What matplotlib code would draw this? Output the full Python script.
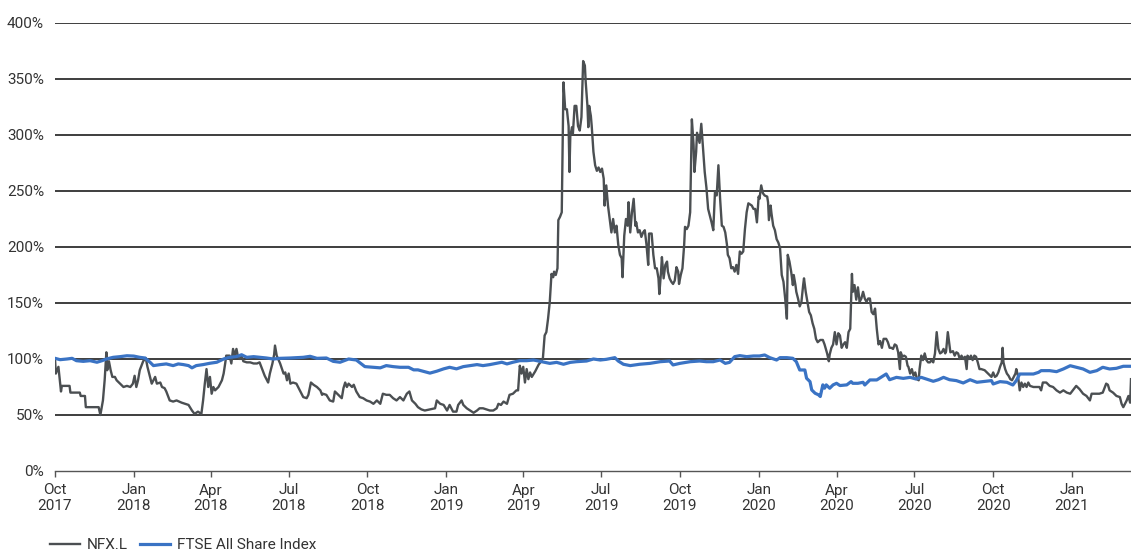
import numpy as np
import matplotlib
matplotlib.use("Agg")
import matplotlib.pyplot as plt
import matplotlib.dates as mdates
from matplotlib.ticker import FuncFormatter

plt.rcParams['font.family'] = ['Roboto', 'DejaVu Sans']

start_date = np.datetime64('2017-10-01')
end_date = np.datetime64('2021-03-11')

# NFX.L, rebased to 100%  (days since 1 Oct 2017, value in %)
nfx_days = [0, 1, 4, 7, 8, 17, 18, 29, 30, 35, 36, 51, 53, 56, 58, 60, 61, 63, 65, 67,
            70, 72, 76, 80, 84, 88, 91, 93, 95, 97, 99, 103, 106, 108, 111, 113, 117, 119, 123, 125,
            128, 130, 134, 138, 142, 148, 152, 156, 160, 163, 167, 171, 173, 175, 177, 179, 181, 183, 185, 187,
            191, 195, 197, 199, 200, 204, 206, 208, 210, 212, 214, 216, 218, 220, 224, 228, 232, 236, 239, 241,
            245, 249, 251, 254, 256, 257, 259, 263, 267, 269, 271, 273, 275, 278, 282,
            286, 290, 294, 296, 299, 302, 306, 310, 312, 313, 317, 321, 325, 327, 331, 335, 337, 339, 341, 343,
            347, 349, 352, 356, 360, 364, 368, 372, 376, 380, 383, 387, 391, 395, 399, 403, 407, 411, 414, 417,
            421, 424, 428, 432, 438, 444, 446, 450, 454, 458, 461, 465, 469, 471, 475, 477, 481, 485, 489, 493,
            496, 500, 504, 508, 512, 516, 518, 521, 524, 528, 531, 535, 539, 541, 543, 545, 547, 549, 551, 553,
            555, 557, 561, 565, 568, 570, 572, 574, 576, 578, 580, 582, 583, 585, 587, 588, 590, 592, 594, 596,
            598, 600, 601, 602, 604, 605, 607, 609, 611, 613, 615, 617, 619, 620, 622, 623, 624, 626, 627, 629,
            631, 633, 635, 637, 639, 641, 642, 644, 646, 648, 650, 652, 654, 656, 658, 660, 662, 663, 665, 667,
            669, 670, 672, 674, 676, 678, 679, 681, 683, 685, 687, 689, 691, 693, 694, 697, 699, 701, 703, 705,
            706, 708, 709, 711, 713, 715, 716, 718, 720, 722, 724, 726, 728, 729, 731, 733, 735, 736, 738, 740,
            742, 744, 746, 747, 749, 750, 753, 755, 757, 759, 761, 763, 765, 767, 769, 771, 773, 775, 777, 779,
            781, 783, 785, 786, 788, 790, 792, 794, 796, 798, 800, 802, 804, 806, 808, 810, 814, 816, 818, 820,
            822, 823, 825, 827, 829, 832, 833, 834, 836, 837, 839, 841, 843, 845, 847, 849, 851, 853, 855, 856,
            858, 860, 862, 863, 865, 866, 868, 870, 872, 874, 875, 877, 879, 881, 883, 885, 887, 889, 891, 894,
            897, 899, 902, 904, 905, 907, 909, 911, 913, 915, 917, 919, 921, 923, 925, 927, 929, 931, 932, 934,
            936, 938, 940, 942, 944, 946, 948, 950, 952, 954, 956, 958, 960, 962,
            964, 966, 968, 971, 973, 975, 977, 979, 981, 983, 985, 987, 988, 990, 992, 994, 996, 997, 999, 1001,
            1003, 1005, 1007, 1009, 1010, 1012, 1014, 1016, 1018, 1020, 1022, 1024, 1026, 1028, 1030, 1032, 1034, 1036, 1038, 1040,
            1041, 1043, 1045, 1046, 1049, 1051, 1053, 1055, 1057, 1059, 1061, 1063, 1065, 1066, 1068, 1070, 1072, 1074, 1076, 1078,
            1080, 1082, 1086, 1090, 1094, 1096, 1098, 1100, 1102, 1104, 1106, 1107, 1108, 1110, 1112, 1114, 1116, 1118, 1120, 1122,
            1123, 1125, 1127, 1129, 1131, 1133, 1135, 1137, 1139, 1143, 1147, 1150, 1152, 1154, 1158, 1162, 1166, 1170, 1174, 1178,
            1182, 1186, 1189, 1193, 1197, 1201, 1205, 1209, 1211, 1213, 1220, 1224, 1228, 1230, 1232, 1236, 1240, 1244, 1246, 1248,
            1250, 1252, 1254, 1256, 1257]
nfx_vals = [100, 87, 93, 71, 76, 76, 70, 70, 67, 67, 57, 57, 50, 63, 81, 106, 90, 98, 90, 84,
            84, 81, 78, 75, 76, 75, 78, 85, 75, 81, 90, 98, 101, 93, 84, 78, 84, 78, 79, 75,
            74, 71, 63, 62, 63, 61, 60, 59, 54, 51, 53, 51, 63, 78, 91, 75, 84, 69, 75, 72,
            75, 81, 87, 97, 103, 103, 96, 109, 103, 109, 101, 100, 103, 98, 97, 97, 96, 96, 97, 93,
            85, 79, 87, 96, 104, 112, 103, 96, 87, 88, 81, 87, 78, 79, 78,
            72, 66, 65, 68, 79, 77, 75, 72, 68, 69, 68, 63, 62, 71, 68, 65, 74, 79, 75, 78,
            75, 77, 71, 66, 65, 63, 62, 60, 63, 60, 69, 68, 68, 65, 63, 66, 63, 69, 71, 63,
            60, 57, 55, 54, 55, 56, 63, 60, 59, 54, 59, 53, 53, 59, 63, 59, 56, 54, 52, 54,
            56, 56, 55, 54, 54, 56, 60, 59, 62, 60, 68, 69, 72, 72, 94, 87, 93, 79, 91, 82,
            88, 84, 89, 95, 98, 101, 121, 124, 136, 151, 176, 173, 178, 175, 181, 224, 227, 231, 347, 323,
            323, 308, 267, 299, 307, 301, 326, 326, 308, 304, 316, 366, 362, 347, 326, 307, 326, 317, 308, 285,
            273, 268, 271, 267, 270, 261, 237, 255, 237, 225, 213, 225, 213, 219, 202, 193, 190, 173, 210, 225,
            219, 240, 213, 231, 243, 219, 222, 213, 215, 209, 213, 215, 202, 184, 212, 212, 193, 181, 181, 172,
            158, 178, 191, 172, 184, 187, 178, 172, 169, 167, 170, 182, 178, 167, 175, 181, 202, 218, 216, 219,
            231, 314, 291, 267, 285, 302, 293, 310, 288, 267, 253, 234, 228, 222, 215, 249, 246, 273, 243, 219,
            218, 213, 202, 193, 190, 181, 182, 178, 184, 176, 196, 194, 196, 216, 231, 239, 237, 234, 234, 222,
            245, 243, 255, 248, 246, 245, 240, 224, 237, 230, 219, 215, 207, 204, 199, 175, 169, 154, 136, 193,
            187, 178, 166, 175, 166, 160, 154, 147, 151, 166, 172, 160, 151, 142, 139, 132, 127, 118, 115, 117,
            117, 113, 105, 98, 104, 110, 113, 124, 113, 123, 121, 110, 113, 115, 110, 124, 127, 176, 160, 166,
            153, 164, 151, 154, 160, 154, 151, 154, 154, 142, 140, 145, 127, 113,
            116, 110, 118, 118, 115, 110, 110, 109, 113, 112, 106, 91, 106, 102, 103, 102, 94, 93, 87, 91,
            85, 88, 82, 81, 91, 103, 99, 105, 99, 97, 97, 99, 97, 105, 124, 109, 105, 106, 109, 105,
            107, 124, 112, 106, 107, 103, 106, 105, 100, 103, 100, 102, 91, 103, 100, 103, 99, 103, 102, 97,
            91, 91, 90, 87, 84, 88, 84, 85, 88, 93, 97, 110, 97, 91, 87, 85, 82, 81, 84, 87,
            91, 85, 72, 79, 75, 78, 75, 79, 76, 75, 75, 75, 72, 79, 79, 76, 75, 72, 70, 72,
            70, 69, 72, 76, 73, 69, 67, 63, 69, 69, 69, 70, 78, 77, 72, 70, 67, 66, 60, 57,
            60, 63, 67, 61, 82]

# FTSE All Share Index, rebased to 100%
ftse_days = [0, 6, 14, 20, 25, 33, 41, 49, 55, 60, 68, 76, 84, 92, 99, 105, 111, 115, 123, 130,
             138, 144, 150, 156, 160, 165, 173, 181, 189, 197, 204, 212, 218, 224, 232, 239, 247, 255, 263, 275,
             290, 298, 306, 317, 325, 333, 343, 352, 358, 362, 372, 380, 387, 395, 403, 413, 419, 424, 430, 438,
             446, 454, 461, 469, 477, 485, 493, 500, 508, 516, 522, 528, 535, 543, 551, 559, 569, 578, 586, 594,
             602, 609, 621, 629, 637, 644, 654, 658, 664, 672, 683, 695, 707, 718, 722, 730, 742, 753, 761, 769,
             777, 783, 788, 794, 800, 808, 816, 823, 829, 835, 843, 847, 855, 862, 866, 870, 876, 878, 882, 884,
             888, 892, 894, 897, 899, 901, 905, 909, 913, 917, 925, 930, 932, 938, 944, 946, 952, 960, 968, 971,
             975, 983, 991, 999, 1006, 1012, 1018, 1026, 1032, 1038, 1045, 1053, 1061, 1069, 1077, 1084, 1094, 1096, 1104, 1112,
             1119, 1123, 1127, 1135, 1143, 1149, 1152, 1162, 1170, 1178, 1186, 1193, 1201, 1209, 1217, 1224, 1232, 1240, 1248, 1257]
ftse_vals = [100.6, 99.4, 100, 100.6, 98.5, 97.9, 98.5, 97.1, 98.5, 100, 101.5, 102.1, 102.9, 102.6, 101.5, 100.9, 97.1, 94.1, 95, 95.6,
             94.1, 95.6, 95, 94.1, 92.1, 94.1, 95, 96.2, 97.1, 100, 101.5, 102.1, 103.8, 101.5, 102.1, 101.5, 100.9, 100, 100.6, 100.9,
             101.5, 102.4, 100.6, 100.9, 97.9, 97.1, 100, 99.1, 95.6, 93.2, 92.6, 92.1, 94.1, 93.2, 92.6, 92.6, 90.3, 90.3, 89.1, 87.4,
             89.1, 91.2, 92.6, 91.2, 93.2, 94.1, 95, 94.1, 95, 96.2, 97.1, 95.6, 97.1, 98.5, 98.5, 99.1, 97.5, 96.1, 97, 95.3,
             97, 97.6, 98.2, 100, 99.1, 99.7, 101.2, 98.2, 95.3, 94.1, 95.3, 96.1, 97.6, 98.2, 94.7, 96.1, 97.6, 98.2, 97.6, 97.6,
             99.1, 96.1, 97, 102.1, 103, 102.1, 102.7, 102.7, 103.6, 101.2, 99.1, 101.2, 101.2, 100.6, 97.6, 90.2, 90.2, 82.8, 79.8, 72.4,
             69.4, 68, 66.5, 76.9, 73.9, 76.9, 73.9, 76.9, 78.3, 76.3, 76.9, 79.8, 78.3, 78.3, 79.2, 76.8, 81.3, 81.3, 85.1, 86.6,
             81.5, 83.6, 82.7, 83.6, 82.1, 83.6, 82.1, 80.1, 81.5, 83.6, 81.5, 80.7, 78.6, 81.5, 79.2, 79.8, 80.7, 77.7, 79.8, 79.2,
             76.8, 80.7, 86.6, 86.6, 86.6, 88.1, 89.6, 89.6, 88.7, 91.1, 94, 92.6, 91.1, 88.1, 89.6, 92.6, 91.1, 91.7, 93.5, 93.5]

y_ticks = [0, 50, 100, 150, 200, 250, 300, 350, 400]

nfx_dates = start_date + np.array(nfx_days).astype('timedelta64[D]')
ftse_dates = start_date + np.array(ftse_days).astype('timedelta64[D]')

fig = plt.figure(figsize=(11.31, 5.52), dpi=100)
ax = fig.add_axes([55 / 1131, 1 - 471 / 552, 1 - 55 / 1131, (471 - 23) / 552])

for t in y_ticks[1:]:
    ax.axhline(t, color='#1e1e1e', linewidth=1.2, zorder=1)

ax.plot(nfx_dates, nfx_vals, color='#4b4f52', linewidth=1.7, label='NFX.L', zorder=3)
ax.plot(ftse_dates, ftse_vals, color='#3a73c4', linewidth=2.3, label='FTSE All Share Index', zorder=4)

ax.set_xlim(start_date, end_date)
ax.set_ylim(0, 400)
ax.set_yticks(y_ticks)
ax.yaxis.set_major_formatter(FuncFormatter(lambda v, p: f'{int(v)}%'))

ax.xaxis.set_major_locator(mdates.MonthLocator(bymonth=[1, 4, 7, 10]))
ax.xaxis.set_major_formatter(mdates.DateFormatter('%b\n%Y'))

for s in ['top', 'right', 'left']:
    ax.spines[s].set_visible(False)
ax.spines['bottom'].set_color('#555555')
ax.spines['bottom'].set_linewidth(1.0)

ax.tick_params(axis='y', length=0, pad=8, labelsize=11, labelcolor='#333333')
ax.tick_params(axis='x', length=4, width=1, color='#555555', pad=5,
               labelsize=11, labelcolor='#333333')
for lbl in ax.get_xticklabels():
    lbl.set_linespacing(1.1)

fig.legend(loc='center left', bbox_to_anchor=(50 / 1131, 1 - 545 / 552), ncol=2,
           frameon=False, fontsize=11, handlelength=1.95, handletextpad=0.45,
           columnspacing=0.8, borderpad=0, borderaxespad=0, labelcolor='#333333')

fig.savefig('out.png', dpi=100)
